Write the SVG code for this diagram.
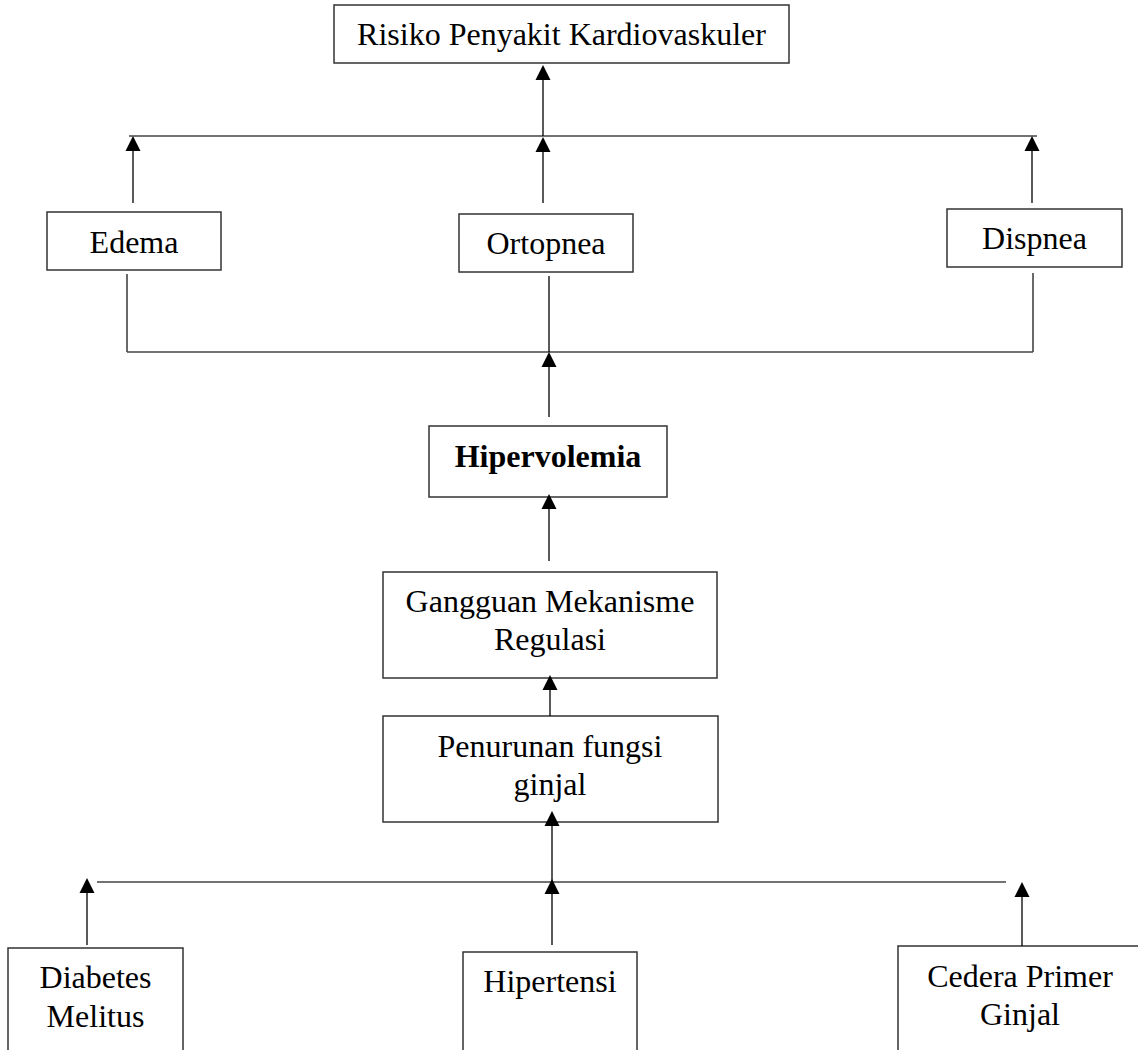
<svg xmlns="http://www.w3.org/2000/svg" width="1138" height="1050" viewBox="0 0 1138 1050">
<style>
.box{fill:#fff;stroke:#333;stroke-width:1.5}
.t{font-family:"Liberation Serif","Times New Roman",serif;font-size:32px;fill:#000;text-anchor:middle}
.b{font-weight:bold}
.ln{fill:none;stroke:#000;stroke-width:1.3}
.bar{fill:none;stroke:#444;stroke-width:1.6}
</style>
<defs>
<path id="head" d="M0,0 L-7.5,15 L7.5,15 Z" fill="#000"/>
</defs>
<rect width="1138" height="1050" fill="#fff"/>
<g id="risiko"><rect class="box" x="334" y="5" width="455" height="58"/><text class="t" x="561.5" y="45">Risiko Penyakit Kardiovaskuler</text></g>
<g id="edema"><rect class="box" x="47" y="212" width="174" height="58"/><text class="t" x="134" y="253">Edema</text></g>
<g id="ortopnea"><rect class="box" x="459" y="214" width="174" height="58"/><text class="t" x="546" y="254">Ortopnea</text></g>
<g id="dispnea"><rect class="box" x="947" y="209" width="175" height="58"/><text class="t" x="1034.5" y="249">Dispnea</text></g>
<g id="hipervolemia"><rect class="box" x="429" y="426" width="238" height="71"/><text class="t b" x="548" y="467">Hipervolemia</text></g>
<g id="gangguan"><rect class="box" x="383" y="572" width="334" height="106"/><text class="t" x="550" y="612">Gangguan Mekanisme</text><text class="t" x="550" y="650">Regulasi</text></g>
<g id="penurunan"><rect class="box" x="383" y="716" width="335" height="106"/><text class="t" x="550" y="757">Penurunan fungsi</text><text class="t" x="550" y="795">ginjal</text></g>
<g id="diabetes"><rect class="box" x="8" y="948" width="175" height="120"/><text class="t" x="95.5" y="988">Diabetes</text><text class="t" x="95.5" y="1027">Melitus</text></g>
<g id="hipertensi"><rect class="box" x="463" y="952" width="174" height="120"/><text class="t" x="550" y="992">Hipertensi</text></g>
<g id="cedera"><rect class="box" x="898" y="946" width="260" height="120"/><text class="t" x="1020" y="987">Cedera Primer</text><text class="t" x="1020" y="1025">Ginjal</text></g>
<g id="connectors">
<line class="bar" x1="129" y1="136" x2="1037" y2="136"/>
<line class="ln" x1="543" y1="136" x2="543" y2="72"/>
<use href="#head" x="543" y="65"/>
<line class="ln" x1="133" y1="203" x2="133" y2="146"/>
<use href="#head" x="133" y="136"/>
<line class="ln" x1="543" y1="203" x2="543" y2="146"/>
<use href="#head" x="543" y="137"/>
<line class="ln" x1="1032" y1="203" x2="1032" y2="146"/>
<use href="#head" x="1032" y="136"/>
<line class="bar" x1="127" y1="352" x2="1033" y2="352"/>
<line class="bar" x1="127" y1="274" x2="127" y2="352"/>
<line class="ln" x1="549" y1="276" x2="549" y2="352"/>
<line class="bar" x1="1033" y1="273" x2="1033" y2="352"/>
<line class="ln" x1="549" y1="417" x2="549" y2="360"/>
<use href="#head" x="549" y="352"/>
<line class="ln" x1="549" y1="561" x2="549" y2="502"/>
<use href="#head" x="549" y="494"/>
<line class="ln" x1="550" y1="716" x2="550" y2="684"/>
<use href="#head" x="550" y="675"/>
<line class="bar" x1="97" y1="882" x2="1006" y2="882"/>
<line class="ln" x1="87" y1="945" x2="87" y2="886"/>
<use href="#head" x="87" y="878"/>
<line class="ln" x1="552" y1="945" x2="552" y2="820"/>
<use href="#head" x="552" y="879"/>
<use href="#head" x="552" y="811"/>
<line class="ln" x1="1022" y1="946" x2="1022" y2="890"/>
<use href="#head" x="1022" y="882"/>
</g>
</svg>
